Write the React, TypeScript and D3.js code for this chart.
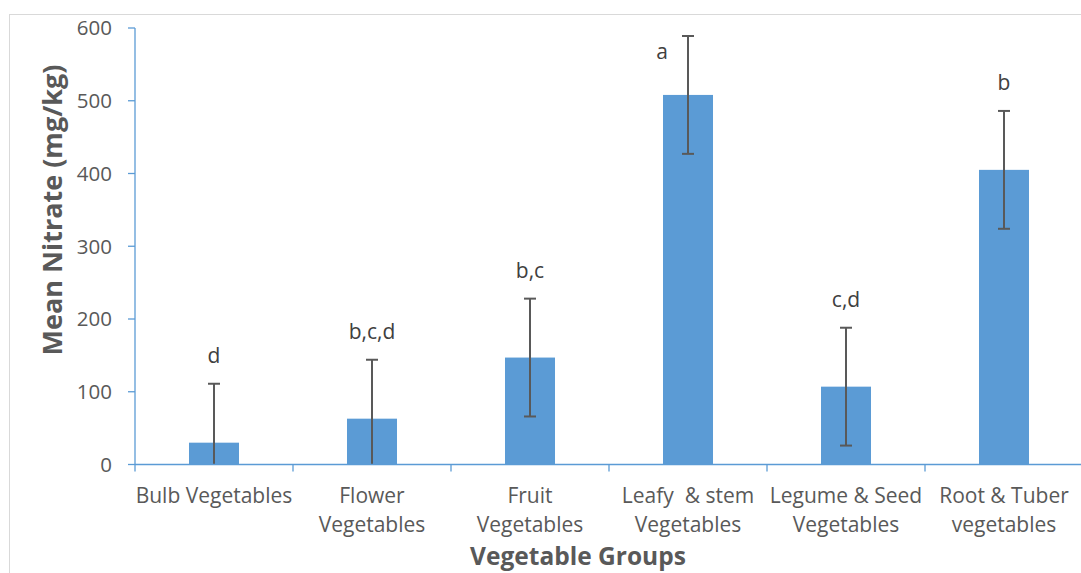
import React from "react";
import * as d3 from "d3";

// Mean nitrate content by vegetable group, with standard error and significance letters
const groupsLine1 = ["Bulb Vegetables", "Flower", "Fruit", "Leafy  & stem", "Legume & Seed", "Root & Tuber"];
const groupsLine2 = ["", "Vegetables", "Vegetables", "Vegetables", "Vegetables", "vegetables"];
const meanNitrate = [30, 63, 147, 508, 107, 405];
const errorMargin = [81, 81, 81, 81, 81, 81];
const groupLetters = ["d", "b,c,d", "b,c", "a", "c,d", "b"];
const yTicks = [0, 100, 200, 300, 400, 500, 600];

const W = 1081;
const H = 573;
const left = 135;
const right = 1083;
const top = 28;
const bottom = 464.5;

const BAR = "#5B9BD5";
const AXIS = "#5B9BD5";
const TEXT = "#595959";
const FONT = "'Open Sans', sans-serif";

export default function App() {
  const keys = groupsLine1.map((_, i) => String(i));
  const x = d3.scaleBand<string>().domain(keys).range([left, right]).paddingInner(0.6835).paddingOuter(0.6835 / 2);
  const y = d3.scaleLinear().domain([0, 600]).range([bottom, top]);
  const step = x.step();

  return (
    <svg width={W} height={H} style={{ position: "absolute", left: 0, top: 0, background: "#fff" }}>
      <rect x={9.5} y={14.5} width={W + 20} height={H + 20} fill="none" stroke="#d9d9d9" strokeWidth={1} />

      {/* y axis */}
      <line x1={left} x2={left} y1={y(600)} y2={bottom} stroke={AXIS} strokeWidth={1.3} />
      {yTicks.map((t) => (
        <g key={t}>
          <line x1={left - 7} x2={left} y1={y(t)} y2={y(t)} stroke={AXIS} strokeWidth={1.3} />
          <text x={112} y={y(t)} dy="0.36em" textAnchor="end" fontFamily={FONT} fontSize={20.5} fill={TEXT}>
            {t}
          </text>
        </g>
      ))}

      {/* bars */}
      {meanNitrate.map((v, i) => (
        <rect key={i} x={x(keys[i])!} y={y(v)} width={x.bandwidth()} height={bottom - y(v)} fill={BAR} />
      ))}

      {/* error bars, clipped at zero */}
      {meanNitrate.map((v, i) => {
        const cx = x(keys[i])! + x.bandwidth() / 2;
        const hi = v + errorMargin[i];
        const lo = Math.max(0, v - errorMargin[i]);
        return (
          <g key={i} stroke="#595959" strokeWidth={2}>
            <line x1={cx} x2={cx} y1={y(hi)} y2={y(lo)} />
            <line x1={cx - 6} x2={cx + 6} y1={y(hi)} y2={y(hi)} />
            {lo > 0 && <line x1={cx - 6} x2={cx + 6} y1={y(lo)} y2={y(lo)} />}
          </g>
        );
      })}

      {/* significance letters */}
      {meanNitrate.map((v, i) => {
        const cx = x(keys[i])! + x.bandwidth() / 2;
        const yTop = y(v + errorMargin[i]);
        const above = yTop - 21;
        const fits = above > top + 10;
        return (
          <text
            key={i}
            x={fits ? cx : cx - 26}
            y={fits ? above : yTop + 23}
            textAnchor="middle"
            fontFamily={FONT}
            fontSize={21}
            fill="#404040"
          >
            {groupLetters[i]}
          </text>
        );
      })}

      {/* x axis */}
      <line x1={left} x2={right} y1={bottom} y2={bottom} stroke={AXIS} strokeWidth={1.3} />
      {d3.range(keys.length + 1).map((k) => (
        <line key={k} x1={left + k * step} x2={left + k * step} y1={bottom} y2={bottom + 7} stroke={AXIS} strokeWidth={1.3} />
      ))}
      {keys.map((k, i) => {
        const cx = x(k)! + x.bandwidth() / 2;
        return (
          <text key={k} textAnchor="middle" fontFamily={FONT} fontSize={21} fill={TEXT} style={{ whiteSpace: "pre" }}>
            <tspan x={cx} y={503}>{groupsLine1[i]}</tspan>
            {groupsLine2[i] && <tspan x={cx} y={532}>{groupsLine2[i]}</tspan>}
          </text>
        );
      })}

      {/* axis titles */}
      <text x={578} y={565} textAnchor="middle" fontFamily={FONT} fontSize={24.5} fontWeight="bold" fill={TEXT}>
        Vegetable Groups
      </text>
      <text
        transform={`translate(62, 210) rotate(-90)`}
        textAnchor="middle"
        fontFamily={FONT}
        fontSize={27}
        fontWeight="bold"
        fill={TEXT}
      >
        Mean Nitrate (mg/kg)
      </text>
    </svg>
  );
}
